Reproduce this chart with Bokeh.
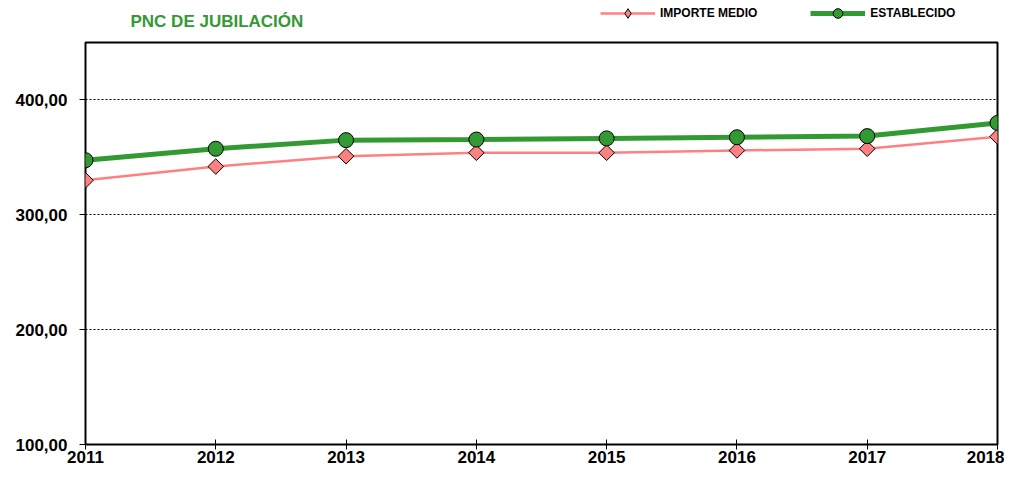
from bokeh.plotting import figure
from bokeh.layouts import column
from bokeh.models import FixedTicker, Range1d, Legend, LegendItem, Label
from bokeh.embed import file_html
from bokeh.resources import INLINE
import math

years = [2011, 2012, 2013, 2014, 2015, 2016, 2017, 2018]
importe_medio = [330.0, 342.0, 351.0, 354.0, 354.0, 356.0, 357.5, 368.0]
establecido = [347.5, 357.5, 365.0, 365.5, 366.5, 367.5, 368.5, 380.0]
y_ticks = [100, 200, 300, 400]
y_labels = ["100,00", "200,00", "300,00", "400,00"]
series_names = ["IMPORTE MEDIO", "ESTABLECIDO"]
title_text = "PNC DE JUBILACIÓN"

FONT = "Liberation Sans"
PINK = "#FF8080"
GREEN = "#339933"
ROT = math.pi / 4

W = 1004
LEFT = 85
RIGHT = 7

# ---- header strip: title + legend (frame aligned with main chart) ----
head = figure(width=W, height=40, output_backend="svg", toolbar_location=None,
              x_range=Range1d(0, W - LEFT - RIGHT), y_range=Range1d(0, 40),
              min_border_left=LEFT, min_border_right=RIGHT, min_border_top=0,
              min_border_bottom=0, x_axis_type=None, y_axis_type=None)
head.outline_line_color = None
head.grid.grid_line_color = None
head.background_fill_color = "white"
head.border_fill_color = "white"

# legend proxies: same series, outside the header's visible ranges
h1 = head.line(years, importe_medio, line_color=PINK, line_width=2.5)
hs1 = head.scatter(years, importe_medio, marker="diamond", size=17,
                   fill_color=PINK, line_color="black", line_width=1)
h2 = head.line(years, establecido, line_color=GREEN, line_width=5)
hs2 = head.scatter(years, establecido, marker="circle", size=15, fill_color=GREEN,
                   line_color="black", line_width=1)

legend = Legend(items=[LegendItem(label=series_names[0], renderers=[h1, hs1]),
                       LegendItem(label=series_names[1], renderers=[h2, hs2])],
                orientation="horizontal", location=(515, 15),
                background_fill_alpha=0, border_line_color=None,
                label_text_font=FONT, label_text_font_style="bold",
                label_text_font_size="12px", label_text_color="black",
                glyph_width=55, glyph_height=24,
                label_height=12, spacing=53, padding=0, margin=0, label_standoff=5)
head.add_layout(legend, "center")

head.add_layout(Label(x=45, y=19, x_units="screen", y_units="screen", text=title_text,
                      text_font=FONT, text_font_style="bold", text_font_size="17px",
                      text_color=GREEN, text_baseline="middle"))

# ---- main chart ----
p = figure(width=W, height=429, output_backend="svg", toolbar_location=None,
           x_range=Range1d(2011, 2018), y_range=Range1d(100, 450),
           min_border_left=LEFT, min_border_right=RIGHT, min_border_top=2,
           min_border_bottom=25)
p.background_fill_color = "white"
p.border_fill_color = "white"
p.outline_line_color = "black"
p.outline_line_width = 2

p.xgrid.grid_line_color = None
p.ygrid.grid_line_color = "black"
p.ygrid.grid_line_width = 1
p.ygrid.grid_line_dash = "2 2"

p.xaxis.ticker = FixedTicker(ticks=years)
p.yaxis.ticker = FixedTicker(ticks=y_ticks)
p.yaxis.major_label_overrides = {t: l for t, l in zip(y_ticks, y_labels)}
p.xaxis.major_label_overrides = {y: str(y) for y in years}
for ax in (p.xaxis[0], p.yaxis[0]):
    ax.axis_line_color = None
    ax.major_label_text_font = FONT
    ax.major_label_text_font_style = "bold"
    ax.major_label_text_font_size = "17px"
    ax.major_label_text_color = "black"
    ax.minor_tick_line_color = None
    ax.major_tick_line_color = "black"
    ax.major_tick_line_width = 1
p.xaxis.major_tick_in = 5
p.xaxis.major_tick_out = 5
p.xaxis.major_label_standoff = 1
p.yaxis.major_tick_in = 0
p.yaxis.major_tick_out = 6
p.yaxis.major_label_standoff = 12

p.line(years, importe_medio, line_color=PINK, line_width=2.5)
p.scatter(years, importe_medio, marker="square", angle=ROT, size=11, fill_color=PINK,
          line_color="black", line_width=1)
p.line(years, establecido, line_color=GREEN, line_width=5)
p.scatter(years, establecido, marker="circle", size=15, fill_color=GREEN,
          line_color="black", line_width=1)

layout = column(head, p, spacing=0)
open("out.html", "w").write(file_html(layout, INLINE))
